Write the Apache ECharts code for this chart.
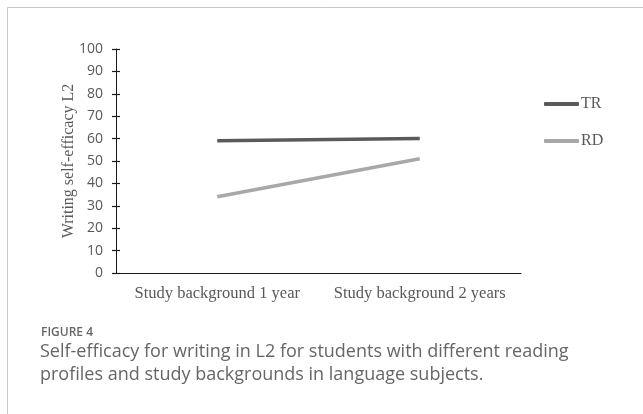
<!DOCTYPE html>
<html>
<head>
<meta charset="utf-8">
<script src="https://cdn.jsdelivr.net/npm/echarts@6/dist/echarts.min.js"></script>
<style>
html,body{margin:0;padding:0;background:#fff;}
#chart{width:643px;height:414px;}
</style>
</head>
<body>
<div id="chart"></div>
<script>
const categories = ['Study background 1 year', 'Study background 2 years'];
const seriesNames = ['TR', 'RD'];
const trValues = [59, 60];
const rdValues = [34, 51];
const yAxisTitle = 'Writing self-efficacy L2';
const figureLabel = 'FIGURE 4';
const captionLines = [
  'Self-efficacy for writing in L2 for students with different reading',
  'profiles and study backgrounds in language subjects.'
];

const serif = '"Liberation Serif", "Times New Roman", serif';
const sans = '"Open Sans", "Noto Sans", sans-serif';

const chart = echarts.init(document.getElementById('chart'), null, {renderer: 'canvas'});
chart.setOption({
  animation: false,
  backgroundColor: '#ffffff',
  grid: {left: 116, top: 49, width: 405, height: 224, containLabel: false},
  legend: {
    orient: 'vertical',
    left: 539,
    top: 91,
    itemWidth: 35,
    itemHeight: 4,
    itemGap: 21,
    icon: 'roundRect',
    data: seriesNames,
    textStyle: {fontFamily: serif, fontSize: 16, color: '#595959', padding: [0, 0, 0, -3]}
  },
  xAxis: {
    type: 'category',
    data: categories,
    boundaryGap: true,
    axisLine: {lineStyle: {color: '#1a1a1a', width: 1}},
    axisTick: {show: false},
    axisLabel: {interval: 0, hideOverlap: false, fontFamily: serif, fontSize: 16.5, color: '#595959', margin: 12}
  },
  yAxis: [{
    type: 'value',
    min: 0, max: 100, interval: 10,
    name: yAxisTitle,
    nameLocation: 'middle',
    nameRotate: 90,
    nameGap: 39,
    nameMoveOverlap: false,
    nameTextStyle: {fontFamily: serif, fontSize: 16, color: '#595959'},
    axisLine: {show: true, lineStyle: {color: '#1a1a1a', width: 1}},
    axisTick: {show: true, length: 4, lineStyle: {color: '#1a1a1a', width: 1.2}},
    axisLabel: {fontFamily: sans, fontSize: 14, color: '#595959', margin: 13},
    splitLine: {show: false}
  }, {
    type: 'value',
    position: 'left',
    min: 0, max: 100, interval: 10,
    axisLine: {show: false},
    axisTick: {show: true, inside: true, length: 4, lineStyle: {color: '#1a1a1a', width: 1.2}},
    axisLabel: {show: false},
    splitLine: {show: false}
  }],
  series: [{
    name: seriesNames[0],
    type: 'line',
    data: trValues,
    symbol: 'none',
    lineStyle: {color: '#5a5a5a', width: 3.5},
    itemStyle: {color: '#5a5a5a'}
  }, {
    name: seriesNames[1],
    type: 'line',
    data: rdValues,
    symbol: 'none',
    lineStyle: {color: '#a8a8a8', width: 3.5},
    itemStyle: {color: '#a8a8a8'}
  }],
  graphic: [
    {type: 'line', shape: {x1: 7.5, y1: 7.5, x2: 643, y2: 7.5}, style: {stroke: '#c8c8c8', lineWidth: 1}},
    {type: 'line', shape: {x1: 7.5, y1: 7.5, x2: 7.5, y2: 414}, style: {stroke: '#c8c8c8', lineWidth: 1}},
    {type: 'text', left: 41, top: 327, style: {text: figureLabel, font: '600 12px ' + sans, fill: '#666666'}},
    {type: 'text', left: 40, top: 343, style: {text: captionLines[0], font: '18px ' + sans, fill: '#666666'}},
    {type: 'text', left: 40, top: 366, style: {text: captionLines[1], font: '18px ' + sans, fill: '#666666'}}
  ]
});
</script>
</body>
</html>
